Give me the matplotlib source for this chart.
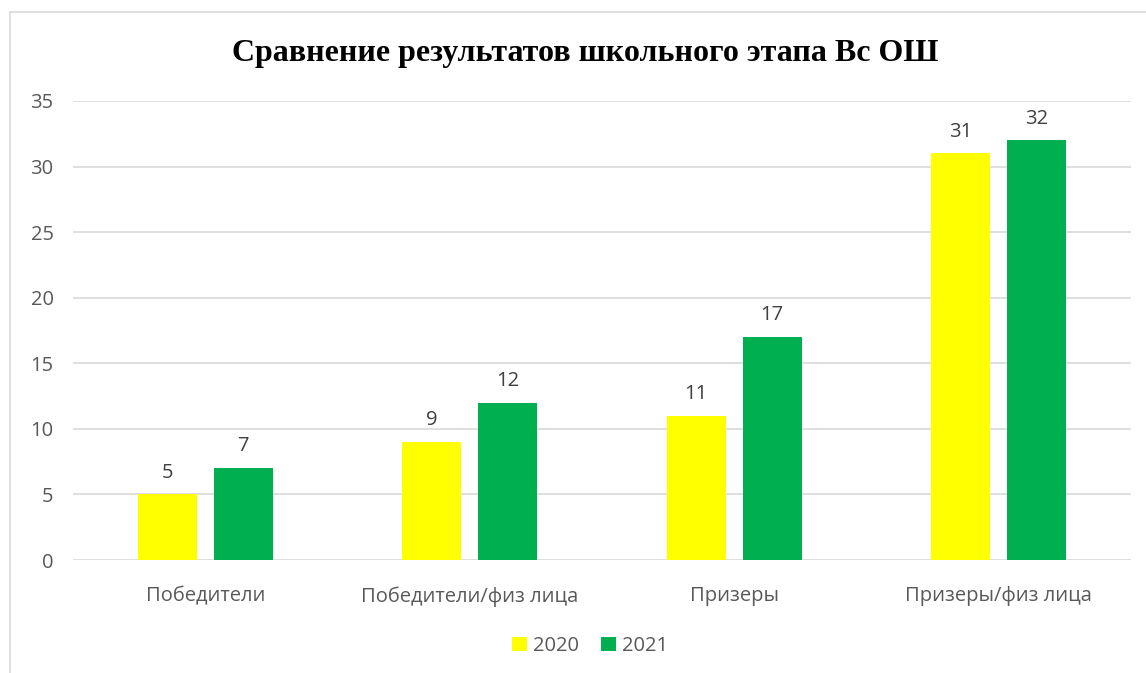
import numpy as np
import matplotlib
matplotlib.use('Agg')
import matplotlib.pyplot as plt
from matplotlib.lines import Line2D

#===============================================================================
categories = ["Победители", "Победители/физ лица", "Призеры", "Призеры/физ лица"]
years      = ["2020", "2021"]
vals_2020  = [5, 9, 11, 31]
vals_2021  = [7, 12, 17, 32]
title_text = "Сравнение результатов школьного этапа Вс ОШ"
#===============================================================================
col_2020 = "#FFFF00"
col_2021 = "#00B050"
txt_col  = "#595959"
plt.rcParams['font.family'] = ['Open Sans', 'DejaVu Sans']

fig = plt.figure(figsize=(11.46, 6.73), dpi=100)
# outer chart border (only top and left visible in the crop)
bx, by = 9.5/1146, 1 - 11.5/673
fig.lines.append(Line2D([bx, bx], [0, by], transform=fig.transFigure,
                        color="#D9D9D9", linewidth=1.2))
fig.lines.append(Line2D([bx, 1], [by, by], transform=fig.transFigure,
                        color="#D9D9D9", linewidth=1.2))

ax = fig.add_axes([73/1146, 113/673, 1058/1146, 459/673])

x = np.arange(len(categories))
w = 0.223
off = 0.1435
b1 = ax.bar(x - off, vals_2020, w, color=col_2020, label=years[0], zorder=3)
b2 = ax.bar(x + off, vals_2021, w, color=col_2021, label=years[1], zorder=3)

for bars in (b1, b2):
    for r in bars:
        ax.text(r.get_x() + r.get_width()/2, r.get_height() + 0.9,
                "%d" % r.get_height(), ha="center", va="bottom",
                fontsize=14.5, color="#404040")

ax.set_xlim(-0.5, len(categories) - 0.5)
ax.set_ylim(0, 35)
ax.set_yticks(range(0, 36, 5))
ax.set_xticks(x)
ax.set_xticklabels(categories)
ax.grid(axis="y", color="#D9D9D9", linewidth=1.2, zorder=0)
for s in ax.spines.values():
    s.set_visible(False)
ax.tick_params(axis="both", length=0, labelsize=14.5, labelcolor=txt_col)
ax.tick_params(axis="y", pad=14)
ax.tick_params(axis="x", pad=19)

fig.text(585/1146, 1 - 53/673, title_text, ha="center", va="center",
         fontsize=23, fontweight="bold", family="Liberation Serif", color="black")

fig.legend(loc="center", bbox_to_anchor=(590/1146, 1 - 646/673), ncol=2,
           frameon=False, fontsize=14.5, labelcolor=txt_col,
           handlelength=0.75, handleheight=0.75, handletextpad=0.3, columnspacing=1.1)

plt.savefig("out.png", dpi=100)
